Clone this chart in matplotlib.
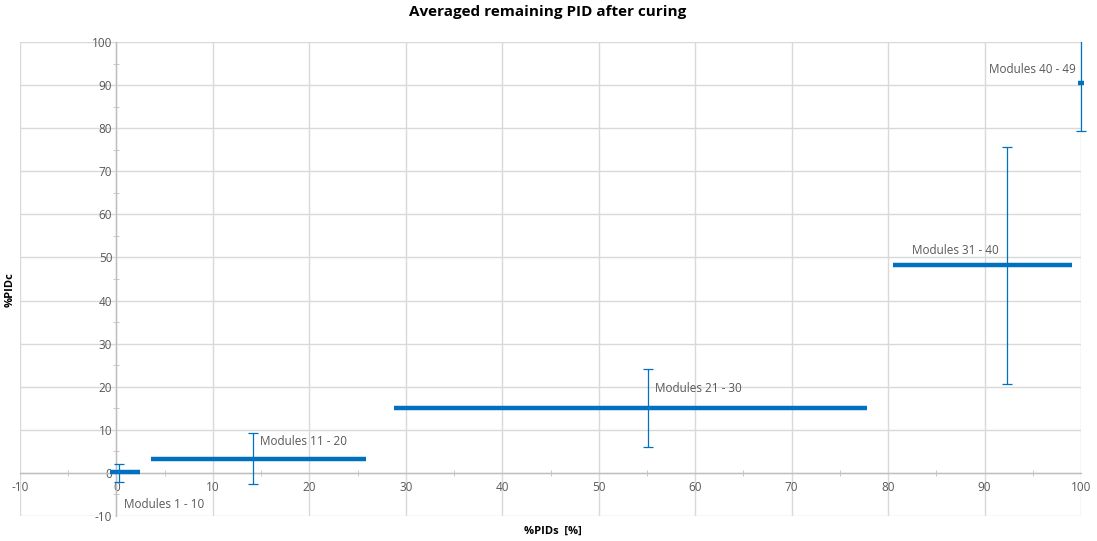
import matplotlib
matplotlib.use("Agg")
import matplotlib.pyplot as plt
from matplotlib.ticker import MultipleLocator
from matplotlib.patches import Rectangle

plt.rcParams['font.family'] = ['Open Sans', 'DejaVu Sans']
plt.rcParams['axes.unicode_minus'] = False

labels = ["Modules 1 - 10", "Modules 11 - 20", "Modules 21 - 30", "Modules 31 - 40", "Modules 40 - 49"]
x_center = [0.3, 14.2, 55.1, 92.3, 100.0]
y_value = [0.1, 3.3, 15.0, 48.3, 90.6]
x_min = [-0.65, 3.6, 28.8, 80.5, 99.7]
x_max = [2.45, 25.9, 77.8, 99.1, 100.3]
y_low = [-2.2, -2.5, 5.9, 20.7, 79.3]
y_high = [2.1, 9.3, 24.0, 75.6, 102.0]
label_x = [0.8, 14.9, 55.8, 82.5, 90.5]
label_y = [-7.4, 7.4, 19.5, 51.7, 93.7]

blue = '#0070C0'
gray = '#595959'
grid = '#d9d9d9'

fig = plt.figure(figsize=(10.97, 5.41), dpi=100)
ax = fig.add_axes([20/1097, (541-516)/541, (1081-20)/1097, (516-42)/541])
ax.set_xlim(-10, 100)
ax.set_ylim(-10, 100)

ax.xaxis.set_major_locator(MultipleLocator(10))
ax.yaxis.set_major_locator(MultipleLocator(10))
ax.xaxis.set_minor_locator(MultipleLocator(5))
ax.yaxis.set_minor_locator(MultipleLocator(5))
ax.grid(True, which='major', color=grid, linewidth=1.0, zorder=0)
ax.set_axisbelow(True)

for s in ['top', 'right']:
    ax.spines[s].set_visible(False)
ax.spines['left'].set_position(('data', 0))
ax.spines['bottom'].set_position(('data', 0))
for s in ['left', 'bottom']:
    ax.spines[s].set_color('#bfbfbf')
    ax.spines[s].set_linewidth(1.0)

ax.tick_params(which='both', direction='inout', colors='#bfbfbf', labelcolor=gray, labelsize=8.5)
ax.tick_params(which='major', length=0)
ax.tick_params(which='minor', length=5)
ax.tick_params(axis='x', pad=6)
ax.tick_params(axis='y', pad=3)

clip = Rectangle((0, 0), 1.006, 1.0, transform=ax.transAxes, facecolor='none', edgecolor='none')
ax.add_patch(clip)

for xc, yv, x0, x1, yl, yh in zip(x_center, y_value, x_min, x_max, y_low, y_high):
    hl = ax.hlines(yv, x0, x1, color=blue, linewidth=3.2, zorder=3)
    hl.set_clip_path(clip)
    eb = ax.errorbar([xc], [yv], yerr=[[yv - yl], [yh - yv]], fmt='none', ecolor=blue,
                     elinewidth=0.9, capsize=3.5, capthick=0.9, zorder=3)
    for art in eb.lines[1] + eb.lines[2]:
        art.set_clip_path(clip)

for lab, lx, ly in zip(labels, label_x, label_y):
    ax.text(lx, ly, lab, color=gray, fontsize=8.5, va='center', ha='left', zorder=4)

fig.text(548/1097, 1 - 12/541, "Averaged remaining PID after curing", ha='center', va='center',
         fontsize=11, fontweight='bold', color='black')
fig.text(553/1097, 1 - 531/541, "%PIDs  [%]", ha='center', va='center',
         fontsize=8, fontweight='bold', color='black')
fig.text(10/1097, 1 - 290/541, "%PIDc", ha='center', va='center', rotation=90,
         fontsize=8, fontweight='bold', color='black')

fig.savefig("out.png", dpi=100)
